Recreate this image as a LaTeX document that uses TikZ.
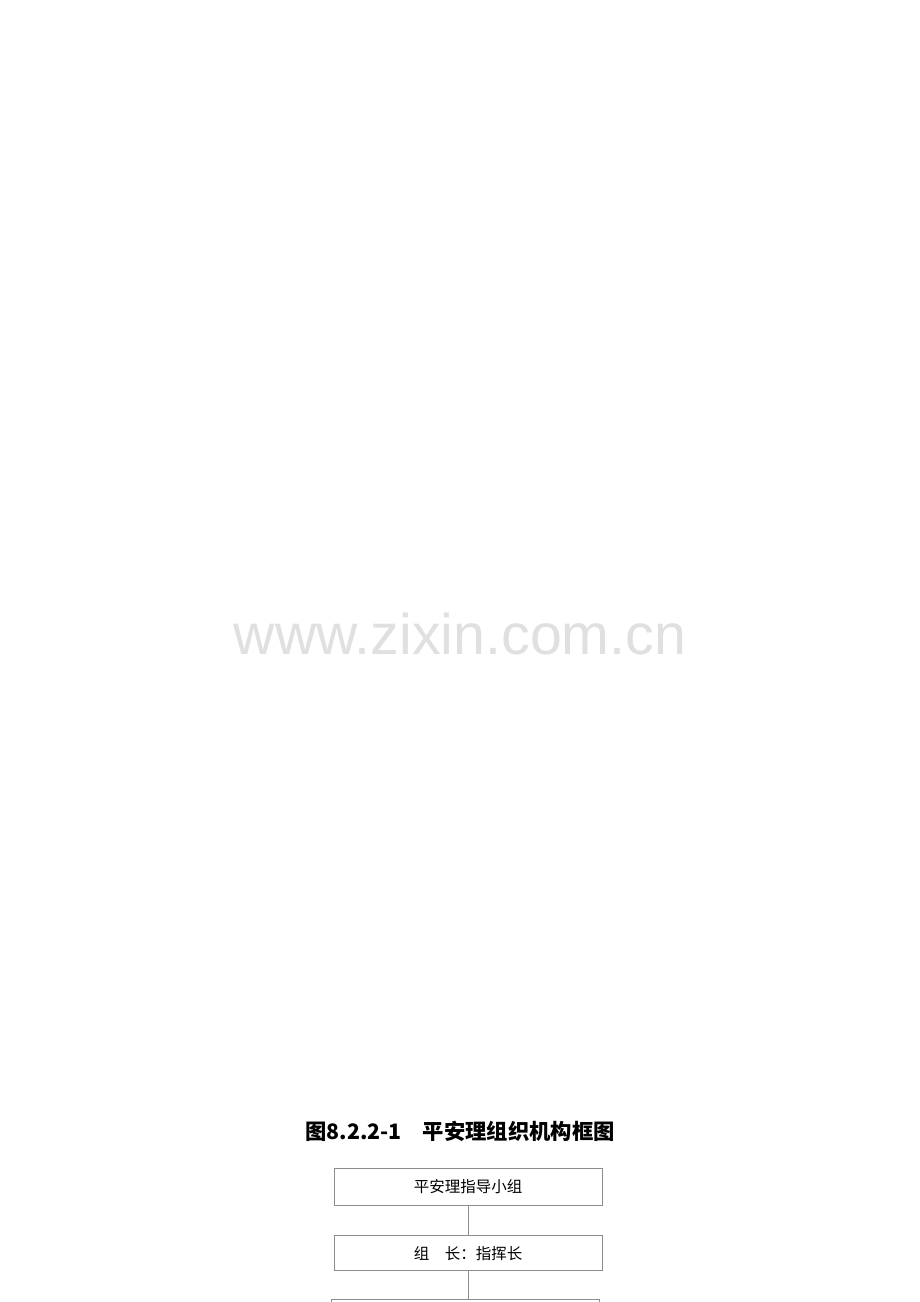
\documentclass[tikz,border=0pt]{standalone}
\usepackage{fontspec}
\usepackage{tikz}
\usetikzlibrary{
	positioning,
	arrows.meta
}
\newfontfamily\cjk{Noto Sans CJK SC}
\newfontfamily\wmfont{Liberation Sans}

\begin{document}
\begin{tikzpicture}[
	x=1pt, y=-1pt,
	unit/.style={draw=black!45, line width=0.8pt, minimum width=268pt,
		minimum height=35pt, inner sep=0pt, font=\cjk\fontsize{15.5}{17}\selectfont},
	link/.style={draw=black!45, line width=0.8pt}
]
	\useasboundingbox[fill=white] (0,0) rectangle (920,1302);
	\clip (0,0) rectangle (920,1302);

	\node[text=black!12, font=\wmfont\fontsize{57.3}{60}\selectfont] (wm) at (460,634) {www.zixin.com.cn};

	\draw
		node [font=\cjk\bfseries\fontsize{21.3}{24}\selectfont] (title) at (460,1131) {图8.2.2-1\hspace{1em}平安理组织机构框图}
		node [unit, minimum height=37pt] (g1) at (468,1186.5) {\raisebox{-1pt}{平安理指导小组}}
		node [unit, below=30pt of g1]     (g2) {\raisebox{-1pt}{组　长：指挥长}}
		node [unit, minimum height=60pt, below=28pt of g2, xshift=-3pt] (g3) {}

		(g1) edge[link] (g1 |- g2.north)
		(g2) edge[link] (g2 |- g3.north)
	;
\end{tikzpicture}
\end{document}
